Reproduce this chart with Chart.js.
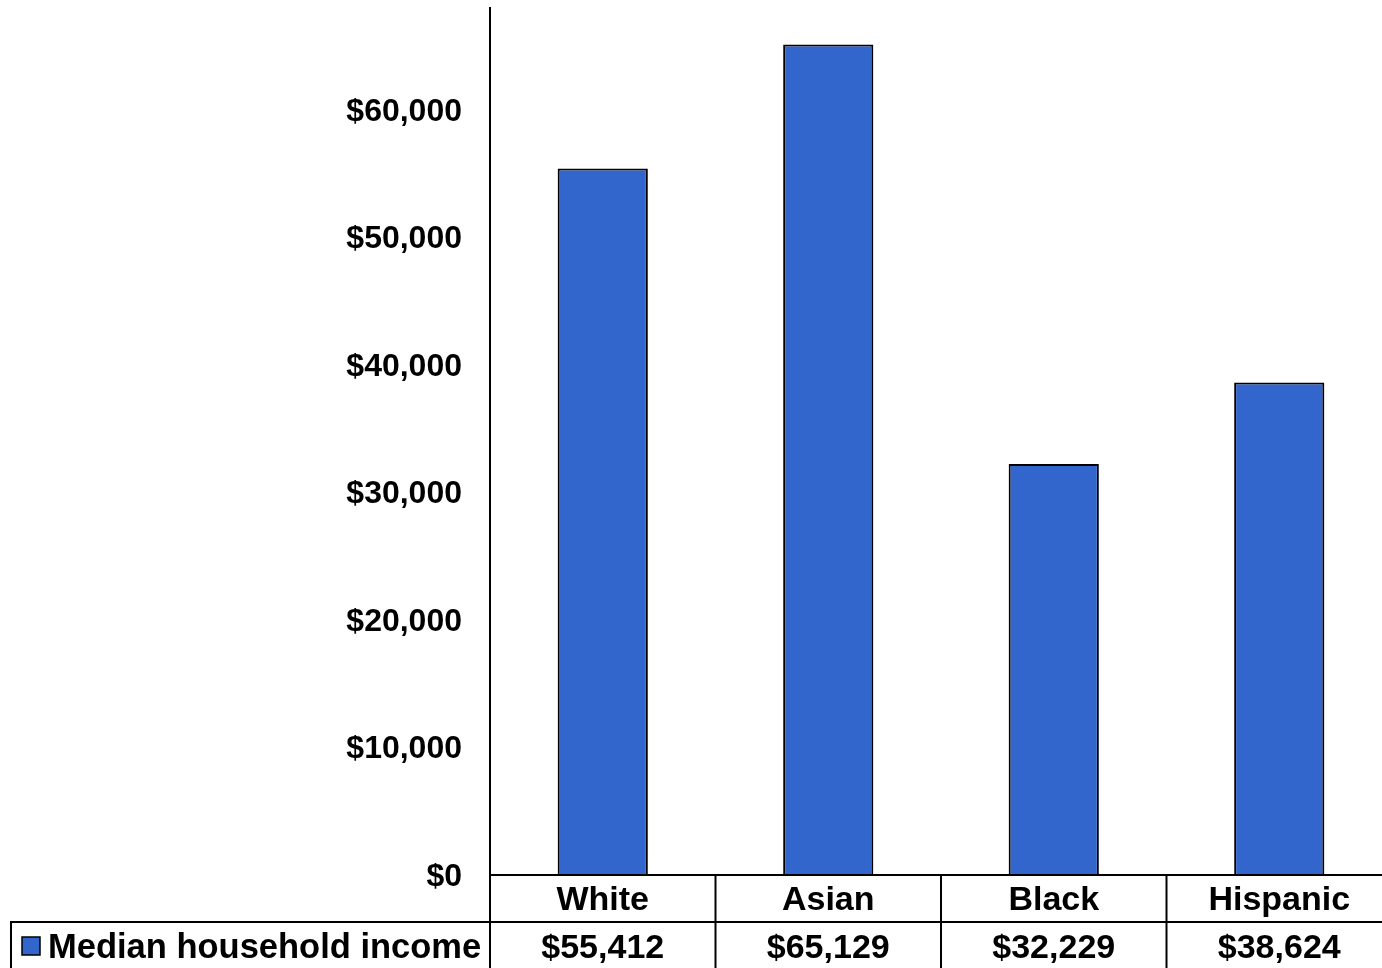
<!DOCTYPE html>
<html><head><meta charset="utf-8">
<script src="https://cdn.jsdelivr.net/npm/chart.js@4/dist/chart.umd.min.js"></script>
<style>html,body{margin:0;padding:0;background:#fff;overflow:hidden;width:1382px;height:968px}
#wrap{position:absolute;left:0;top:0;width:1402px;height:968px}</style>
</head><body>
<div id="wrap"><canvas id="c" width="1402" height="968"></canvas></div>
<script>
const categories = ["White", "Asian", "Black", "Hispanic"];
const incomeValues = [55412, 65129, 32229, 38624];
const seriesName = "Median household income";
const yTicks = [0, 10000, 20000, 30000, 40000, 50000, 60000];

const FONT = '"Liberation Sans", Arial, sans-serif';
const BLUE = '#3366CC';
const fmt = v => '$' + v.toLocaleString('en-US');

const tablePlugin = {
  id: 'dataTable',
  afterDraw(chart) {
    const ctx = chart.ctx;
    const x = chart.scales.x, ca = chart.chartArea;
    const n = categories.length;
    const step = (ca.right - ca.left) / n;
    const row1Top = ca.bottom, row2Top = ca.bottom + 47, bottom = 968;
    ctx.save();
    ctx.strokeStyle = '#000';
    ctx.lineWidth = 2;
    ctx.beginPath();
    ctx.moveTo(ca.left, row1Top); ctx.lineTo(ca.right, row1Top);
    ctx.moveTo(10, row2Top); ctx.lineTo(ca.right, row2Top);
    ctx.moveTo(11, row2Top); ctx.lineTo(11, bottom);
    ctx.moveTo(ca.left, row1Top); ctx.lineTo(ca.left, bottom);
    for (let i = 1; i < n; i++) {
      const bx = ca.left + step * i;
      ctx.moveTo(bx, row1Top); ctx.lineTo(bx, bottom);
    }
    ctx.stroke();
    ctx.fillStyle = '#000';
    ctx.font = 'bold 34px ' + FONT;
    ctx.textAlign = 'center';
    ctx.textBaseline = 'middle';
    categories.forEach((c, i) => {
      const cx = x.getPixelForValue(i);
      ctx.fillText(c, cx, row1Top + 26);
      ctx.fillText(fmt(incomeValues[i]), cx, row2Top + 27);
    });
    // legend key
    ctx.fillStyle = BLUE;
    ctx.fillRect(22, 937, 18, 18);
    ctx.lineWidth = 1.5;
    ctx.strokeRect(22, 937, 18, 18);
    ctx.fillStyle = '#000';
    ctx.textAlign = 'left';
    ctx.font = 'bold 34.5px ' + FONT;
    ctx.fillText(seriesName, 48, row2Top + 26);
    ctx.restore();
  }
};

new Chart(document.getElementById('c'), {
  type: 'bar',
  plugins: [tablePlugin],
  data: {
    labels: categories,
    datasets: [{
      label: seriesName,
      data: incomeValues,
      backgroundColor: BLUE,
      borderColor: '#000',
      borderWidth: 2,
      borderSkipped: 'bottom',
      barPercentage: 0.4,
      categoryPercentage: 1
    }]
  },
  options: {
    responsive: false,
    animation: false,
    devicePixelRatio: 1,
    layout: { padding: { left: 0, top: 8, right: 10, bottom: 93 } },
    plugins: { legend: { display: false }, tooltip: { enabled: false } },
    scales: {
      x: { display: false, offset: true },
      y: {
        min: 0, max: 68000,
        afterBuildTicks: s => { s.ticks = yTicks.map(v => ({ value: v })); },
        afterFit: s => { s.width = 490; s.paddingTop = 0; s.paddingBottom = 0; },
        grid: { display: false, drawTicks: false },
        border: { display: true, color: '#000', width: 2 },
        ticks: {
          padding: 28,
          labelOffset: 2,
          color: '#000',
          font: { family: FONT, size: 32, weight: 'bold' },
          callback: v => fmt(v)
        }
      }
    }
  }
});
</script>
</body></html>
